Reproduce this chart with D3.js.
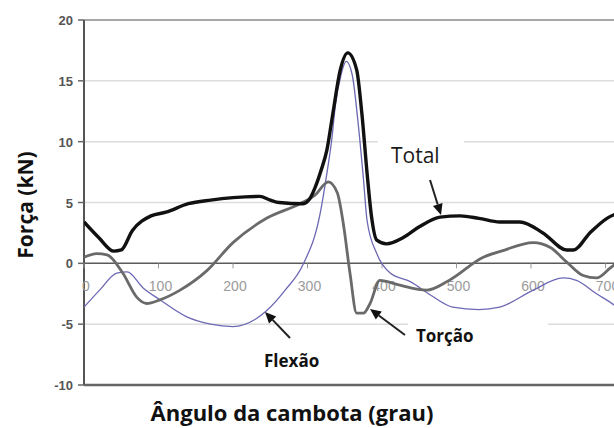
<!DOCTYPE html>
<html>
<head>
<meta charset="utf-8">
<script src="https://cdn.jsdelivr.net/npm/d3@7"></script>
<style>
  body { margin: 0; background: #fff; }
  svg { display: block; font-family: "Open Sans", "Noto Sans", sans-serif; }
  .ytick { font-family: "Liberation Sans", Arial, sans-serif; font-size: 13px; font-weight: bold; fill: #555; }
  .xtick { font-family: "Liberation Sans", Arial, sans-serif; font-size: 14px; fill: #9a9a9a; }
</style>
</head>
<body>
<svg width="614" height="428"></svg>
<script>
// data: crank angle (deg) vs force (kN)
const totalAngles = [0, 20, 40, 50, 65, 90, 110, 140, 170, 200, 236, 250, 262, 294, 303, 310, 318, 326, 334, 344, 354, 366, 373, 380, 386, 393, 406, 428, 450, 478, 505, 530, 558, 585, 616, 648, 657, 679, 702, 720]
const totalForce  = [3.4, 2.1, 1.0, 1.1, 2.7, 3.9, 4.2, 4.9, 5.2, 5.4, 5.5, 5.2, 5.0, 4.9, 5.3, 6.2, 7.6, 9.3, 12.3, 15.9, 17.3, 15.9, 12.3, 7.4, 3.8, 1.9, 1.6, 2.1, 3.0, 3.8, 3.9, 3.7, 3.4, 3.4, 2.5, 1.1, 1.1, 2.5, 3.7, 4.2]

const flexaoAngles = [0, 21, 44, 58, 79, 102, 138, 170, 200, 230, 245, 270, 294, 317, 326, 333, 337, 345, 352, 360, 368, 375, 380, 393, 411, 438, 465, 495, 530, 558, 603, 643, 661, 688, 711, 720]
const flexaoForce  = [-3.6, -2.2, -0.8, -0.7, -2.0, -3.0, -4.4, -5.0, -5.2, -4.6, -3.9, -2.2, -0.1, 4.1, 7.4, 10.4, 12.8, 15.5, 16.6, 15.5, 11.5, 7.0, 3.5, 0.8, -0.8, -1.5, -2.6, -3.6, -3.8, -3.6, -2.2, -1.2, -1.4, -2.5, -3.4, -3.8]

const torcaoAngles = [0, 17, 31, 52, 71, 84, 102, 129, 165, 200, 245, 290, 310, 328, 340, 348, 357, 366, 375, 384, 397, 424, 460, 490, 536, 560, 603, 626, 648, 670, 688, 706, 720]
const torcaoForce  = [0.5, 0.8, 0.7, -0.8, -2.8, -3.3, -3.0, -2.2, -0.6, 1.7, 3.7, 4.9, 5.6, 6.7, 5.8, 3.3, -0.8, -4.1, -4.1, -3.3, -1.4, -1.8, -2.2, -1.4, 0.5, 1.0, 1.7, 1.3, 0.1, -1.0, -1.2, -0.4, 0.3]

const xTicks = [0, 100, 200, 300, 400, 500, 600, 700]
const yTicks = [-10, -5, 0, 5, 10, 15, 20]

const svg = d3.select('svg')

// plot box: x runs past the right edge of the window (picture is cropped)
const x = d3.scaleLinear().domain([0, 720]).range([84, 620.4])
const y = d3.scaleLinear().domain([-10, 20]).range([385, 20])

svg.append('defs').append('clipPath').attr('id', 'plot')
  .append('rect').attr('x', 84).attr('y', 18).attr('width', 540).attr('height', 369)

// horizontal grid lines
svg.selectAll('line.grid')
  .data(yTicks.filter(d => d !== 0 && d !== -10))
  .enter()
  .append('line')
  .attr('class', 'grid')
  .attr('x1', 84).attr('x2', 614)
  .attr('y1', d => y(d)).attr('y2', d => y(d))
  .style('stroke', d => d === 20 ? '#a8a8a8' : '#dcdcdc')
  .style('stroke-width', d => d === 20 ? 2 : 1.5)

// zero line and bottom axis
svg.append('line')
  .attr('x1', 84).attr('x2', 614).attr('y1', y(0)).attr('y2', y(0))
  .style('stroke', '#5a5a5a').style('stroke-width', 1.5)
svg.append('line')
  .attr('x1', 84).attr('x2', 614).attr('y1', y(-10)).attr('y2', y(-10))
  .style('stroke', '#666').style('stroke-width', 2.5)

// left axis
svg.append('line')
  .attr('x1', 84).attr('x2', 84).attr('y1', y(20)).attr('y2', y(-10))
  .style('stroke', '#555').style('stroke-width', 2)

svg.selectAll('line.ytk')
  .data(yTicks)
  .enter()
  .append('line')
  .attr('class', 'ytk')
  .attr('x1', 78).attr('x2', 84)
  .attr('y1', d => y(d)).attr('y2', d => y(d))
  .style('stroke', '#666').style('stroke-width', 1.5)

svg.selectAll('text.ytick')
  .data(yTicks)
  .enter()
  .append('text')
  .attr('class', 'ytick')
  .attr('x', 73)
  .attr('y', d => y(d) + 5)
  .attr('text-anchor', 'end')
  .text(d => d)

// x ticks sit on the zero line
svg.selectAll('line.xtk')
  .data(xTicks)
  .enter()
  .append('line')
  .attr('class', 'xtk')
  .attr('x1', d => x(d)).attr('x2', d => x(d))
  .attr('y1', y(0)).attr('y2', y(0) + 5)
  .style('stroke', '#999').style('stroke-width', 1)

svg.selectAll('text.xtick')
  .data(xTicks)
  .enter()
  .append('text')
  .attr('class', 'xtick')
  .attr('x', d => x(d) + 2)
  .attr('y', y(0) + 28)
  .attr('text-anchor', 'middle')
  .text(d => d)

// series
const line = d3.line()
  .x(d => x(d[0]))
  .y(d => y(d[1]))
  .curve(d3.curveMonotoneX)

const series = [
  { angles: flexaoAngles, force: flexaoForce, color: '#6c68b4', width: 1.3 },
  { angles: torcaoAngles, force: torcaoForce, color: '#6a6a6a', width: 2.8 },
  { angles: totalAngles, force: totalForce, color: '#111', width: 3.4 }
]

const plot = svg.append('g').attr('clip-path', 'url(#plot)')
plot.selectAll('path.series')
  .data(series)
  .enter()
  .append('path')
  .attr('class', 'series')
  .attr('d', s => line(s.angles.map((a, i) => [a, s.force[i]])))
  .style('fill', 'none')
  .style('stroke', s => s.color)
  .style('stroke-width', s => s.width)
  .style('stroke-linejoin', 'round')

// annotations (white boxes hide the grid behind labels)
svg.append('rect').attr('x', 378).attr('y', 132).attr('width', 86).attr('height', 42).style('fill', '#fff')
svg.append('rect').attr('x', 408).attr('y', 318).attr('width', 140).attr('height', 30).style('fill', '#fff')

svg.append('text')
  .attr('x', 391).attr('y', 163)
  .style('font-size', '21px').style('fill', '#1a1a1a')
  .text('Total')
svg.append('text')
  .attr('x', 264).attr('y', 367)
  .style('font-size', '17px').style('font-weight', 'bold').style('fill', '#111')
  .text('Flexão')
svg.append('text')
  .attr('x', 416).attr('y', 342)
  .style('font-size', '17px').style('font-weight', 'bold').style('fill', '#111')
  .text('Torção')

// arrows: [tail, tip] in pixel space
const arrows = [
  [[430, 180], [441, 215]],
  [[290, 338], [265, 312]],
  [[405, 335], [370, 309]]
]
arrows.forEach(([t, h]) => {
  const ang = Math.atan2(h[1] - t[1], h[0] - t[0])
  const len = 11, half = 5
  const bx = h[0] - len * Math.cos(ang), by = h[1] - len * Math.sin(ang)
  svg.append('line')
    .attr('x1', t[0]).attr('y1', t[1]).attr('x2', bx).attr('y2', by)
    .style('stroke', '#222').style('stroke-width', 2)
  svg.append('path')
    .attr('d', `M${h[0]},${h[1]} L${bx - half * Math.sin(ang)},${by + half * Math.cos(ang)} L${bx + half * Math.sin(ang)},${by - half * Math.cos(ang)} Z`)
    .style('fill', '#111')
})

// axis titles
svg.append('text')
  .attr('transform', 'translate(33, 205) rotate(-90)')
  .attr('text-anchor', 'middle')
  .style('font-size', '21px').style('font-weight', 'bold').style('fill', '#111')
  .text('Força (kN)')

svg.append('text')
  .attr('x', 292).attr('y', 421)
  .attr('text-anchor', 'middle')
  .style('font-size', '22px').style('font-weight', 'bold').style('fill', '#111')
  .text('Ângulo da cambota (grau)')
</script>
</body>
</html>
